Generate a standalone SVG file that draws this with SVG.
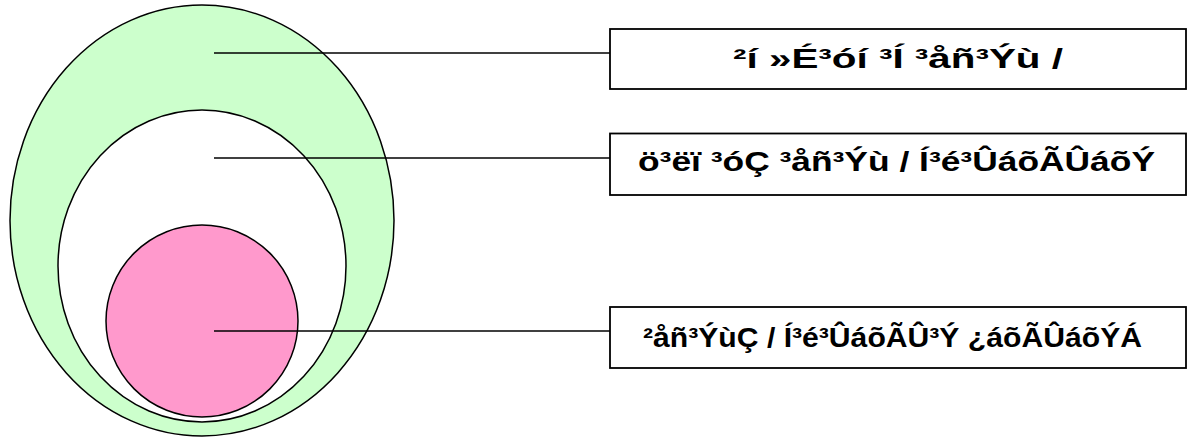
<svg xmlns="http://www.w3.org/2000/svg" width="1187" height="439" viewBox="0 0 1187 439">
<style>
.sh{stroke:#000;stroke-width:1.5}
.box{fill:#fff;stroke:#000;stroke-width:1.8}
.lbl{font-family:"Liberation Sans",Arial,sans-serif;font-weight:bold;font-size:28px;fill:#000;text-anchor:middle}
.conn{stroke:#000;stroke-width:1.5;fill:none}
</style>
<defs>
<clipPath id="c1"><rect x="610" y="29" width="576" height="51"/></clipPath>
</defs>
<g id="outer"><ellipse class="sh" cx="202" cy="220.5" rx="192" ry="215.5" fill="#CCFFCC"/></g>
<g id="middle"><ellipse class="sh" cx="202" cy="266" rx="144" ry="156" fill="#FFFFFF"/></g>
<g id="inner"><circle class="sh" cx="202" cy="321" r="96" fill="#FF99CC"/></g>
<g id="connectors">
<line class="conn" x1="214" y1="53" x2="610" y2="53"/>
<line class="conn" x1="214" y1="158" x2="610" y2="158"/>
<line class="conn" x1="214" y1="331" x2="610" y2="331"/>
</g>
<g id="label1">
<rect class="box" x="610" y="29" width="576" height="60"/>
<text class="lbl" x="898" y="68" textLength="330" lengthAdjust="spacingAndGlyphs" clip-path="url(#c1)">²í »É³óí ³Í ³åñ³Ýù /</text>
</g>
<g id="label2">
<rect class="box" x="610" y="133.5" width="576" height="61.5"/>
<text class="lbl" x="896.5" y="171" textLength="517" lengthAdjust="spacingAndGlyphs">ö³ëï ³óÇ ³åñ³Ýù / Í³é³ÛáõÃÛáõÝ</text>
</g>
<g id="label3">
<rect class="box" x="610" y="307" width="576" height="61"/>
<text class="lbl" x="892.5" y="347" textLength="499" lengthAdjust="spacingAndGlyphs">²åñ³ÝùÇ / Í³é³ÛáõÃÛ³Ý ¿áõÃÛáõÝÁ</text>
</g>
</svg>
